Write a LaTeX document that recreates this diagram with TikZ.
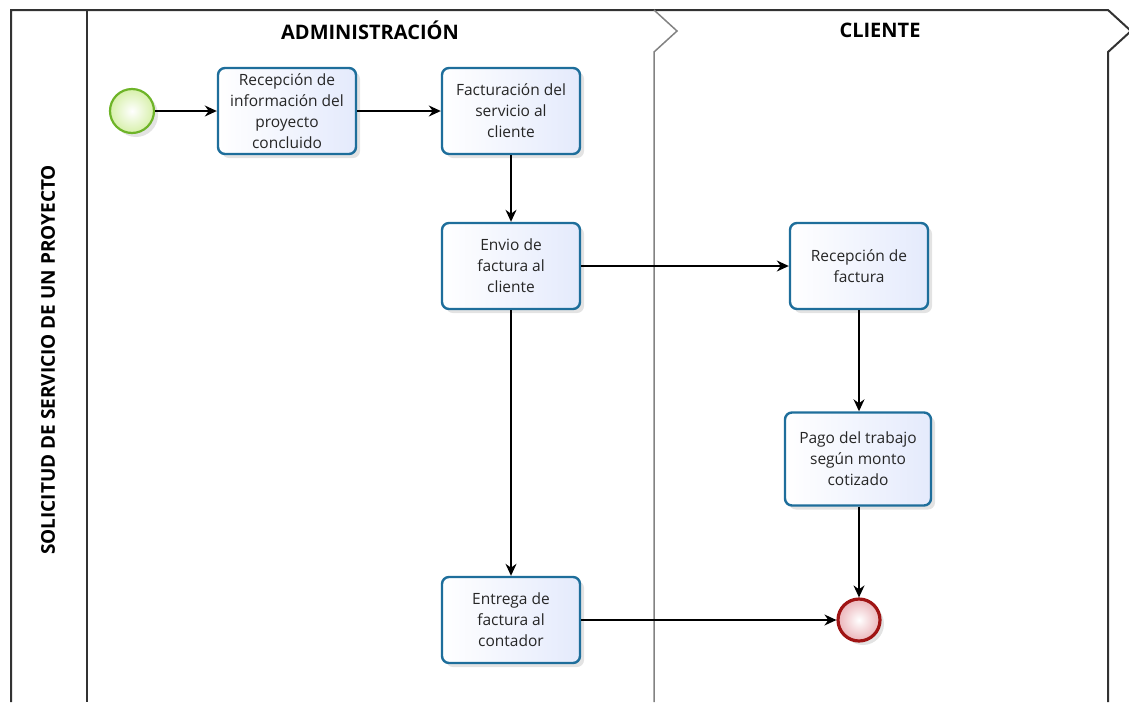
\documentclass[tikz,border=0pt]{standalone}
\usepackage{fontspec}
\setmainfont{Open Sans}
\usetikzlibrary{arrows.meta,shadows,calc}
\definecolor{taskborder}{RGB}{30,110,155}
\definecolor{taskfill}{RGB}{228,234,252}
\definecolor{startborder}{RGB}{110,180,40}
\definecolor{startfill}{RGB}{215,240,170}
\definecolor{endborder}{RGB}{160,20,20}
\definecolor{endfill}{RGB}{235,180,185}
\definecolor{poolline}{RGB}{50,50,50}
\definecolor{laneline}{RGB}{130,130,130}
\tikzset{
  task/.style={draw=taskborder, line width=2.4pt, rounded corners=7pt,
    left color=white, right color=taskfill,
    minimum width=138pt, minimum height=86pt, align=center,
    font=\fontsize{15.5}{21}\selectfont, text=black!85,
    drop shadow={opacity=0.22, shadow xshift=4pt, shadow yshift=-4pt}},
  startev/.style={circle, draw=startborder, line width=2.2pt, minimum size=44pt,
    inner color=white, outer color=startfill,
    drop shadow={opacity=0.22, shadow xshift=4pt, shadow yshift=-4pt}},
  endev/.style={circle, draw=endborder, line width=3.2pt, minimum size=42pt,
    inner color=white, outer color=endfill,
    drop shadow={opacity=0.22, shadow xshift=4pt, shadow yshift=-4pt}},
  flow/.style={line width=1.5pt, black, -{Stealth[length=12pt,width=11pt]}},
  lanetitle/.style={font=\bfseries\fontsize{20}{22}\selectfont},
}
\begin{document}
\begin{tikzpicture}[x=1pt,y=-1pt]
\useasboundingbox (0,0) rectangle (1129,702);
% pool outline and title band
\draw[poolline, line width=2pt] (11,702) -- (11,10) -- (1108,10) -- (1131,31) -- (1108,52) -- (1108,702);
\draw[poolline, line width=2pt] (87,10) -- (87,702);
% separator between the two lanes
\draw[laneline, line width=1.5pt] (654,10) -- (677,31) -- (654,52) -- (654,702);
% lane and pool titles
\node[lanetitle] (tadm) at (370,30) {ADMINISTRACIÓN};
\node[lanetitle] (tcli) at (880,30) {CLIENTE};
\node[font=\bfseries\fontsize{19}{22}\selectfont, rotate=90] (tpool) at (48,360) {SOLICITUD DE SERVICIO DE UN PROYECTO};
% events and tasks
\node[startev] (start) at (132,111) {};
\node[task] (t1) at (287,111) {Recepción de\\información del\\proyecto\\concluido};
\node[task] (t2) at (511,111) {Facturación del\\servicio al\\cliente};
\node[task] (t3) at (511,266) {Envio de\\factura al\\cliente};
\node[task] (t4) at (511,620) {Entrega de\\factura al\\contador};
\node[task] (t5) at (859,266) {Recepción de\\factura};
\node[task, minimum width=146pt, minimum height=93pt] (t6) at (858,459) {Pago del trabajo\\según monto\\cotizado};
\node[endev] (end) at (859,620) {};
% sequence flows
\draw[flow] (start) -- (t1);
\draw[flow] (t1) -- (t2);
\draw[flow] (t2) -- (t3);
\draw[flow] (t3) -- (t5);
\draw[flow] (t3) -- (t4);
\draw[flow] (t5.south -| end) -- (t6.north -| end);
\draw[flow] (t6.south -| end) -- (end);
\draw[flow] (t4) -- (end);
\end{tikzpicture}
\end{document}
